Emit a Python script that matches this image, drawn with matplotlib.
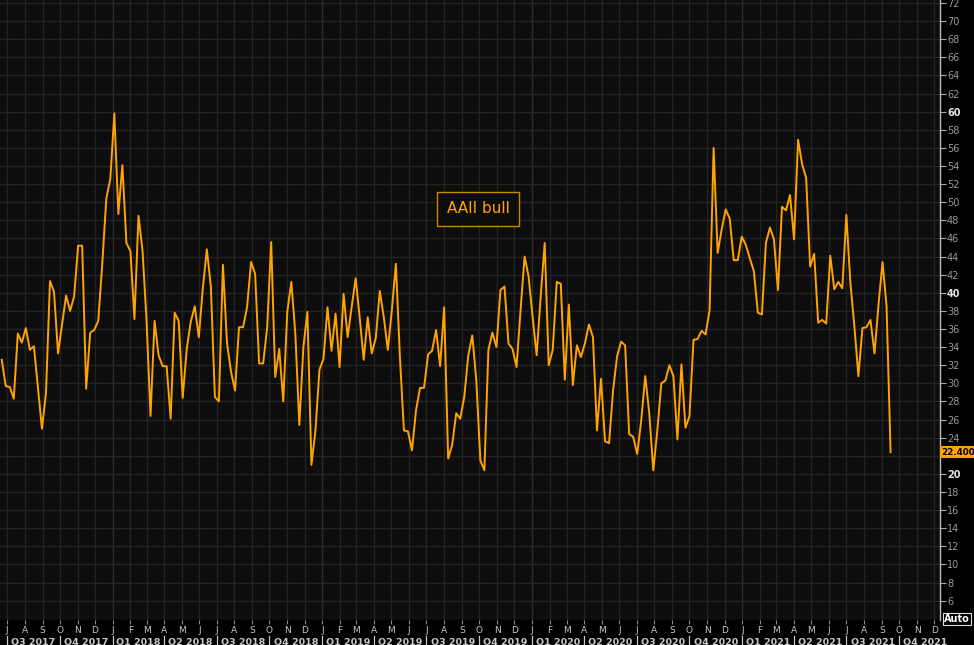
import numpy as np
import pandas as pd
import matplotlib
matplotlib.use('Agg')
import matplotlib.pyplot as plt
import matplotlib.dates as mdates
import matplotlib.transforms as mtransforms

# weekly AAII bullish readings (%)
start_date = '2017-06-22'
bull = [
    32.6, 29.7, 29.6, 28.3, 35.5, 34.5, 36.1, 33.7, 34.1, 29.5,
    25.0, 28.9, 41.3, 40.1, 33.3, 36.5, 39.7, 38.0, 39.6, 45.2,
    45.2, 29.4, 35.6, 35.9, 36.9, 43.2, 50.4, 52.6, 59.8, 48.7,
    54.1, 45.5, 44.6, 37.1, 48.5, 44.7, 37.0, 26.4, 36.9, 33.1,
    31.9, 31.9, 26.1, 37.8, 36.9, 28.4, 33.8, 36.8, 38.5, 35.1,
    40.5, 44.8, 40.7, 28.5, 28.0, 43.1, 34.5, 31.3, 29.2, 36.2,
    36.2, 38.4, 43.4, 42.1, 32.2, 32.2, 36.2, 45.6, 30.7, 33.8,
    28.0, 37.9, 41.2, 35.5, 25.4, 34.0, 37.9, 21.0, 24.8, 31.5,
    32.7, 38.4, 33.6, 37.7, 31.8, 39.9, 35.1, 38.4, 41.6, 37.3,
    32.6, 37.3, 33.3, 35.0, 40.2, 37.3, 33.7, 38.1, 43.2, 32.9,
    24.8, 24.7, 22.6, 27.0, 29.5, 29.5, 33.2, 33.6, 35.9, 31.9,
    38.4, 21.7, 23.2, 26.7, 26.1, 28.5, 33.1, 35.3, 30.3, 21.5,
    20.4, 33.7, 35.6, 34.0, 40.3, 40.7, 34.4, 33.8, 31.8, 38.1,
    44.0, 41.8, 37.3, 33.1, 39.6, 45.5, 32.0, 33.7, 41.2, 41.0,
    30.4, 38.7, 29.8, 34.2, 32.9, 34.4, 36.5, 35.1, 24.8, 30.5,
    23.6, 23.4, 29.2, 33.0, 34.6, 34.2, 24.4, 24.1, 22.2, 25.9,
    30.8, 26.7, 20.4, 24.8, 30.0, 30.3, 32.0, 30.8, 23.8, 32.1,
    25.1, 26.4, 34.8, 34.9, 35.8, 35.4, 38.1, 56.0, 44.4, 47.0,
    49.2, 48.2, 43.6, 43.6, 46.2, 45.3, 43.8, 42.4, 37.8, 37.6,
    45.5, 47.2, 45.9, 40.3, 49.5, 49.1, 50.8, 45.9, 56.9, 54.2,
    52.7, 42.9, 44.3, 36.7, 37.0, 36.6, 44.1, 40.4, 41.2, 40.5,
    48.6, 41.1, 36.3, 30.8, 36.1, 36.2, 37.0, 33.3, 38.7, 43.4,
    38.5, 22.4,
]
series_name = 'AAII bull'
y_ticks = list(range(6, 74, 2))
bold_ticks = [20, 40, 60]
month_start = '2017-07-01'
month_end = '2021-12-01'

dates = pd.date_range(start_date, periods=len(bull), freq='7D')
months = pd.date_range(month_start, month_end, freq='MS')

BG = '#0d0d0d'
GRID = '#232323'
ORANGE = '#ffa300'
TXT = '#c8c8c8'

fig = plt.figure(figsize=(9.74, 6.45), dpi=100, facecolor='black')
ax = fig.add_axes([0, 25 / 645, 940 / 974, 620 / 645], facecolor=BG)

x_left = mdates.date2num(pd.Timestamp('2017-06-19'))
x_right = mdates.date2num(pd.Timestamp('2021-12-11'))
ax.set_xlim(x_left, x_right)
ax.set_ylim(3.87, 72.33)

# grid
for m in months:
    col = '#2c2c2c' if m.month == 1 else GRID
    ax.axvline(mdates.date2num(m), color=col, lw=1.0, zorder=0)
for v in y_ticks:
    ax.axhline(v, color=GRID, lw=1.0, zorder=0)

ax.plot(mdates.date2num(dates), bull, color=ORANGE, lw=1.4, zorder=3)

# right axis
ax.yaxis.tick_right()
ax.set_yticks(y_ticks)
# the last-value tag sits on top of the 22 label
ax.set_yticklabels(['' if v == 22 else str(v) for v in y_ticks])
ax.tick_params(axis='y', direction='out', length=4, width=0.8, color='#aaaaaa',
               labelsize=7, labelcolor='#9a9a9a', pad=1)
for lab, v in zip(ax.get_yticklabels(), y_ticks):
    if v in bold_ticks:
        lab.set_fontweight('bold')
        lab.set_color('#e6e6e6')
for side in ['top', 'left', 'bottom']:
    ax.spines[side].set_visible(False)
ax.spines['right'].set_color('#bbbbbb')
ax.spines['right'].set_linewidth(1.0)

# bottom axis: month letters + quarter labels
ax.set_xticks([mdates.date2num(m) for m in months])
ax.set_xticklabels([])
ax.tick_params(axis='x', direction='out', length=3, width=0.8, color='#888888')
trans = mtransforms.blended_transform_factory(ax.transData, ax.transAxes)
for m in months:
    ax.text(mdates.date2num(m), -0.0177, m.strftime('%b')[0], transform=trans,
            ha='center', va='center', fontsize=6.5, color=TXT, clip_on=False)
quarters = pd.date_range('2017-07-01', '2021-10-01', freq='QS')
for q in quarters:
    q0 = mdates.date2num(q)
    q1 = mdates.date2num(q + pd.offsets.QuarterBegin(startingMonth=1))
    mid = min((q0 + q1) / 2, x_right - 20)
    ax.plot([q0, q0], [-0.026, -0.045], transform=trans, color=TXT, lw=0.9,
            clip_on=False)
    ax.text(mid, -0.036, f'Q{q.quarter} {q.year}', transform=trans,
            ha='center', va='center', fontsize=6.8, fontweight='bold',
            color=TXT, clip_on=False)

# last value tag
tag_trans = mtransforms.blended_transform_factory(ax.transAxes, ax.transData)
ax.text(1.0012, bull[-1], f'{bull[-1]:.3f}', transform=tag_trans, ha='left',
        va='center', fontsize=6.3, fontweight='bold', color='black', zorder=5,
        bbox=dict(facecolor=ORANGE, edgecolor='none', pad=0.9), clip_on=False)

fig.text(957 / 974, 1 - 619 / 645, 'Auto', ha='center', va='center',
         fontsize=7, fontweight='bold', color='white',
         bbox=dict(facecolor='black', edgecolor='#dddddd', pad=1.0, lw=0.8))

# series label box
ax.text(478 / 940, (620 - 209) / 620, series_name, transform=ax.transAxes,
        ha='center', va='center', fontsize=11, color=ORANGE,
        bbox=dict(facecolor=BG, edgecolor='#c98800', lw=1.0,
                  boxstyle='square,pad=0.6'))

fig.savefig('out.png', dpi=100, facecolor=fig.get_facecolor())
